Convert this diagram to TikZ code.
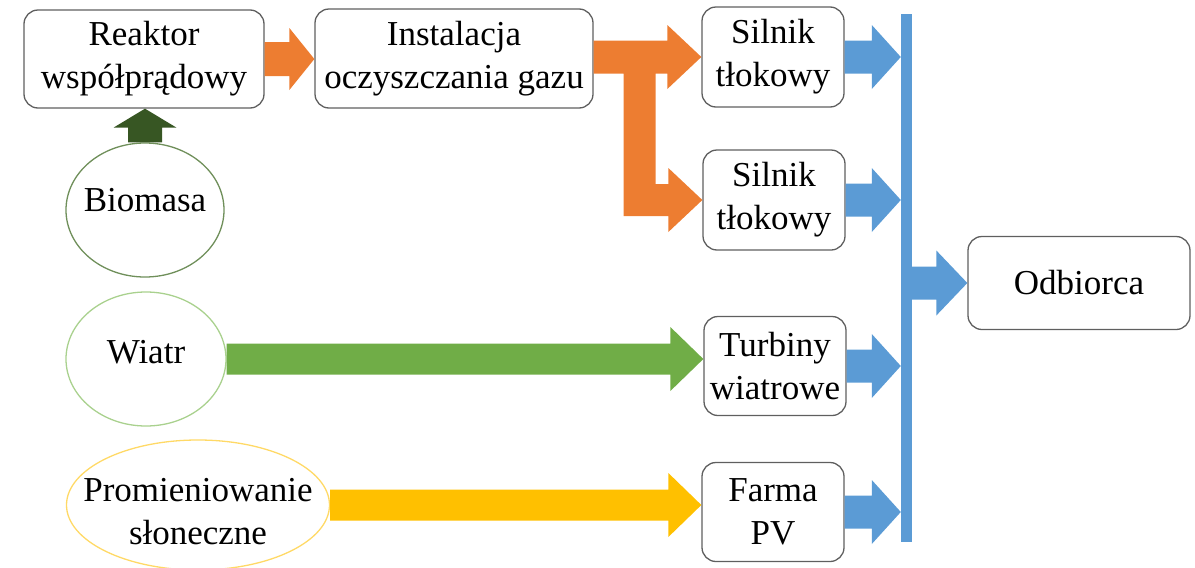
\documentclass[tikz,border=0pt]{standalone}
\usepackage{fontspec}
\setmainfont{Liberation Serif}
\usetikzlibrary{shapes.geometric,calc}
\definecolor{cOrange}{HTML}{ED7D31}
\definecolor{cBlue}{HTML}{5B9BD5}
\definecolor{cGreen}{HTML}{70AD47}
\definecolor{cYellow}{HTML}{FFC000}
\definecolor{cDark}{HTML}{375623}
\definecolor{cBioLine}{HTML}{6F8F5A}
\definecolor{cWindLine}{HTML}{A9D18E}
\definecolor{cSunLine}{HTML}{FFD966}
\definecolor{cBox}{HTML}{5F5F5F}
\newcommand\blockarrow[6]{%
  \fill[#1] let \p1=(#2), \p2=(#3) in
    ({\x1},{\y1+#4}) -- ({\x2-#6},{\y1+#4}) -- ({\x2-#6},{\y1+#5}) -- ({\x2},{\y1})
    -- ({\x2-#6},{\y1-#5}) -- ({\x2-#6},{\y1-#4}) -- ({\x1},{\y1-#4}) -- cycle;}
\begin{document}
\begin{tikzpicture}[x=1pt,y=-1pt,
  every node/.style={font=\fontsize{35}{43}\selectfont},
  rbox/.style={draw=cBox, line width=1.3pt, rounded corners=14pt, align=center, inner sep=0pt},
  src/.style={ellipse, line width=1.3pt, inner sep=0pt},
  txt/.style={align=center, inner sep=0pt}]
\useasboundingbox (0,0) rectangle (1195,568);
% boxes
\node[rbox, minimum width=240pt, minimum height=98pt] (reak) at (144,59) {Reaktor\\współprądowy};
\node[rbox, minimum width=278pt, minimum height=99pt] (inst) at (454,58.5) {Instalacja\\oczyszczania gazu};
\node[rbox, minimum width=142pt, minimum height=100pt] (s1) at (773,57) {Silnik\\tłokowy};
\node[rbox, minimum width=142pt, minimum height=100pt] (s2) at (774,200) {Silnik\\tłokowy};
\node[rbox, minimum width=142pt, minimum height=99pt] (turb) at (775,366) {Turbiny\\wiatrowe};
\node[rbox, minimum width=142pt, minimum height=99pt] (farma) at (773,512) {Farma\\PV};
\node[rbox, minimum width=222pt, minimum height=93pt] (odb) at (1079,283) {Odbiorca};
% sources
\node[src, draw=cBioLine, minimum width=158pt, minimum height=134pt] (bio) at (145,210) {};
\node[txt] (biot) at (145,200) {Biomasa};
\node[src, draw=cWindLine, minimum width=160pt, minimum height=134pt] (wiatr) at (146,359) {};
\node[txt] (wiatrt) at (146,352) {Wiatr};
\node[src, draw=cSunLine, minimum width=263pt, minimum height=130pt] (prom) at (198,505) {};
\node[txt] (promt) at (198,512) {Promieniowanie\\słoneczne};
% bus
\node[fill=cBlue, minimum width=11pt, minimum height=528pt, inner sep=0pt] (bus) at (906.5,278) {};
% biomass arrow (vertical)
\fill[cDark] let \p1=(bio.north), \p2=(reak.south) in
  ({\x1-17pt},{\y1}) -- ({\x1-17pt},{\y2-19pt}) -- ({\x1-31.5pt},{\y2-19pt}) -- ({\x1},{\y2})
  -- ({\x1+31.5pt},{\y2-19pt}) -- ({\x1+17pt},{\y2-19pt}) -- ({\x1+17pt},{\y1}) -- cycle;
% orange arrows
\blockarrow{cOrange}{reak.east}{inst.west}{17pt}{31pt}{25pt}
\fill[cOrange] let \p1=(inst.east), \p2=(s1.west), \p3=(s2.west) in
  ({\x1},{\y2+16.5pt}) -- ({\x2-34pt},{\y2+16.5pt}) -- ({\x2-34pt},{\y2+32pt}) -- (\p2)
  -- ({\x2-34pt},{\y2-32pt}) -- ({\x2-34pt},{\y2-16.5pt}) -- ({\x1+62pt},{\y2-16.5pt})
  -- ({\x1+62pt},{\y3+16pt}) -- ({\x3-34pt},{\y3+16pt}) -- ({\x3-34pt},{\y3+32pt}) -- (\p3)
  -- ({\x3-34pt},{\y3-32pt}) -- ({\x3-34pt},{\y3-16pt}) -- ({\x1+30pt},{\y3-16pt})
  -- ({\x1+30pt},{\y2-16.5pt}) -- ({\x1},{\y2-16.5pt}) -- cycle;
% green and yellow arrows
\blockarrow{cGreen}{wiatr.east}{turb.west}{15.5pt}{32pt}{33pt}
\blockarrow{cYellow}{prom.east}{farma.west}{15.5pt}{32pt}{33pt}
% blue arrows
\blockarrow{cBlue}{s1.east}{bus.west}{16.5pt}{32pt}{29pt}
\blockarrow{cBlue}{s2.east}{bus.west}{16.5pt}{32pt}{29pt}
\blockarrow{cBlue}{turb.east}{bus.west}{16.5pt}{32pt}{29pt}
\blockarrow{cBlue}{farma.east}{bus.west}{16.5pt}{32pt}{29pt}
\blockarrow{cBlue}{bus.east |- odb.west}{odb.west}{16.5pt}{32.5pt}{31pt}
\end{tikzpicture}
\end{document}
